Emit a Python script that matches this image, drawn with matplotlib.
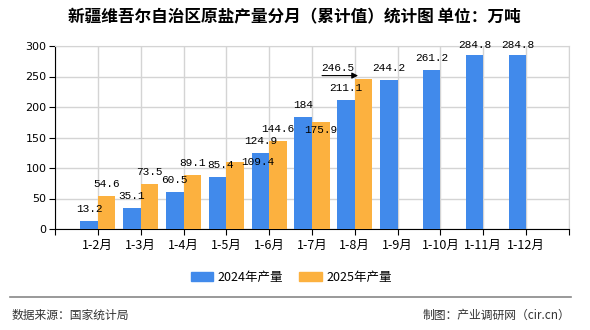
import numpy as np
import matplotlib
matplotlib.use("Agg")
import matplotlib.pyplot as plt
from matplotlib.lines import Line2D
from matplotlib.patches import Patch

plt.rcParams['font.family'] = ['Noto Sans CJK SC', 'DejaVu Sans']

# 新疆维吾尔自治区原盐产量（累计值），单位：万吨
months = ['1-2月', '1-3月', '1-4月', '1-5月', '1-6月', '1-7月',
          '1-8月', '1-9月', '1-10月', '1-11月', '1-12月']
prod_2024 = [13.2, 35.1, 60.5, 85.4, 124.9, 184, 211.1, 244.2, 261.2, 284.8, 284.8]
prod_2025 = [54.6, 73.5, 89.1, 109.4, 144.6, 175.9, 246.5]

BLUE = '#418AEB'
ORANGE = '#FCB13F'
GRID = '#d4d4d4'

fig = plt.figure(figsize=(5.9, 3.3), dpi=100)
ax = fig.add_axes([55 / 590, 1 - 229 / 330, 514 / 590, 183 / 330])

x = np.arange(1, len(months) + 1)
x25 = x[:len(prod_2025)]
w = 0.41

ax.bar(x - w / 2, prod_2024, width=w, color=BLUE, zorder=3)
ax.bar(x25 + w / 2, prod_2025, width=w, color=ORANGE, zorder=3)

ax.set_xlim(0, 12)
ax.set_ylim(0, 300)
ax.set_yticks(np.arange(0, 301, 50))
ax.set_xticks(np.arange(0, 13))
ax.set_xticklabels([''] + months + [''], fontsize=9)
ax.tick_params(axis='x', length=4, pad=3, colors='black')
ax.tick_params(axis='y', length=4, pad=2, labelsize=8)
for lab in ax.get_yticklabels():
    lab.set_family('DejaVu Sans')

ax.grid(True, color=GRID, linewidth=1, zorder=0)
ax.set_axisbelow(True)
ax.spines['top'].set_color(GRID)
ax.spines['right'].set_color(GRID)
ax.spines['left'].set_color('black')
ax.spines['bottom'].set_color('black')

# 数值标签：默认在柱顶上方，个别位置错开避免重叠
lab_font = dict(family='Liberation Mono', fontsize=8, color='black')
shift_2024 = {3: (3, 12), 9: (0, 10), 10: (0, 10)}
shift_2025 = {3: (23, 0), 5: (0, -8)}

for i, v in enumerate(prod_2024):
    dx, dy = shift_2024.get(i, (0, 12))
    ax.annotate(f'{v:g}', (x[i] - w / 2, v), xytext=(dx, dy),
                textcoords='offset pixels', ha='center', va='center',
                zorder=5, annotation_clip=False, **lab_font)

for i, v in enumerate(prod_2025):
    if i == 6:
        continue
    dx, dy = shift_2025.get(i, (0, 12))
    ax.annotate(f'{v:g}', (x25[i] + w / 2, v), xytext=(dx, dy),
                textcoords='offset pixels', ha='center', va='center',
                zorder=5, annotation_clip=False, **lab_font)

# 1-8月 2025 标签：移到左上方，用带箭头的横线引出
i = 6
top_x, top_y = x25[i] + w / 2, prod_2025[i]
tip = (top_x - 0.13, top_y + 5)
ax.annotate('', xy=tip, xytext=(-36, 0), textcoords='offset pixels',
            arrowprops=dict(arrowstyle='-|>', color='black', lw=0.8,
                            shrinkA=0, shrinkB=0, mutation_scale=9),
            zorder=6, annotation_clip=False)
ax.annotate(f'{top_y:g}', tip, xytext=(-20, 8),
            textcoords='offset pixels', ha='center', va='center',
            zorder=6, annotation_clip=False, **lab_font)

fig.text(294 / 590, 1 - 17 / 330,
         '新疆维吾尔自治区原盐产量分月（累计值）统计图 单位：万吨',
         ha='center', va='center', fontsize=12, fontweight='bold')

handles = [Patch(color=BLUE, label='2024年产量'),
           Patch(color=ORANGE, label='2025年产量')]
fig.legend(handles=handles, loc='center', bbox_to_anchor=(291 / 590, 1 - 277 / 330),
           ncol=2, frameon=False, fontsize=9, handlelength=1.8, handleheight=0.75,
           handletextpad=0.35, columnspacing=1.3)

fig.add_artist(Line2D([10 / 590, 571 / 590], [1 - 297 / 330] * 2,
                      transform=fig.transFigure, color='#888888', lw=1.2))
fig.text(12 / 590, 1 - 315 / 330, '数据来源：国家统计局', ha='left', va='center',
         fontsize=8.5, color='#333333')
fig.text(570 / 590, 1 - 315 / 330, '制图：产业调研网（cir.cn）', ha='right', va='center',
         fontsize=8.5, color='#333333')

fig.savefig('out.png', dpi=100)
